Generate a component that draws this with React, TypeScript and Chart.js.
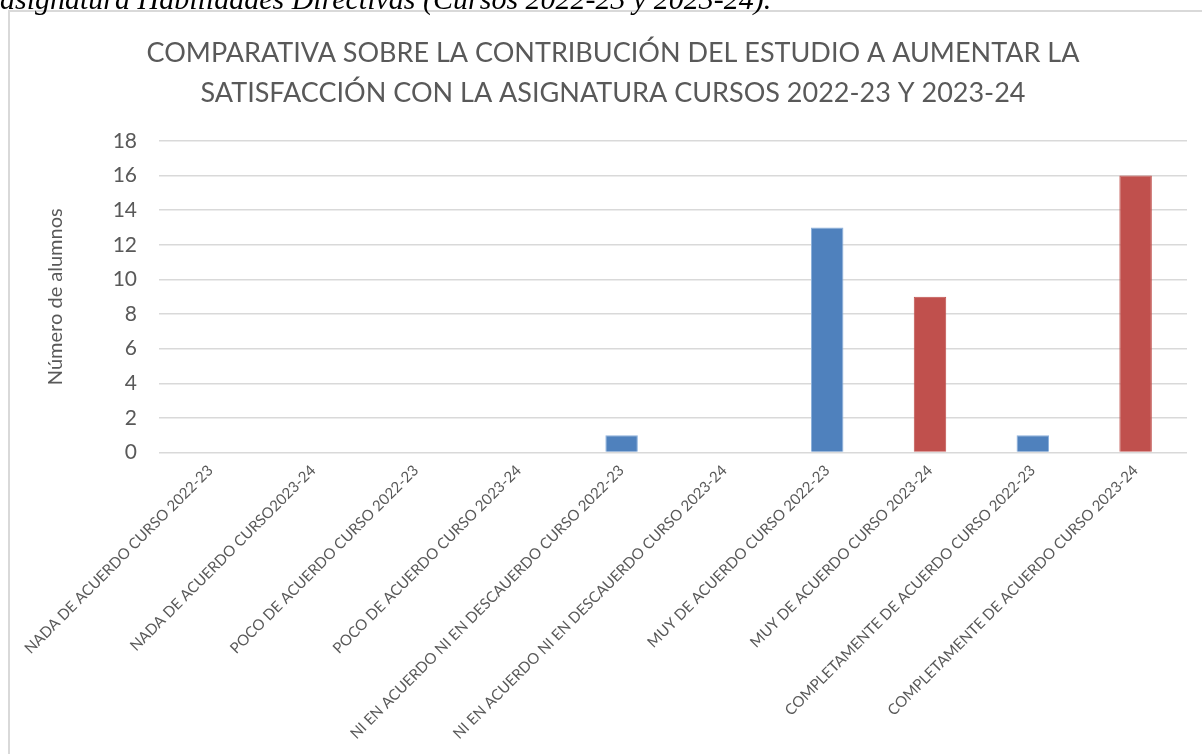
import React, { useEffect, useRef } from "react";
import { Chart, registerables } from "chart.js";

Chart.register(...registerables);

const categories: string[] = [
  "NADA DE ACUERDO CURSO 2022-23",
  "NADA DE ACUERDO CURSO2023-24",
  "POCO DE ACUERDO CURSO 2022-23",
  "POCO DE ACUERDO CURSO 2023-24",
  "NI EN ACUERDO NI EN DESCAUERDO CURSO 2022-23",
  "NI EN ACUERDO NI EN DESCAUERDO CURSO 2023-24",
  "MUY DE ACUERDO CURSO 2022-23",
  "MUY DE ACUERDO CURSO 2023-24",
  "COMPLETAMENTE DE ACUERDO CURSO 2022-23",
  "COMPLETAMENTE DE ACUERDO CURSO 2023-24",
];

const values: number[] = [0, 0, 0, 0, 1, 0, 13, 9, 1, 16];

const courses: string[] = ["2022-23", "2023-24", "2022-23", "2023-24", "2022-23", "2023-24", "2022-23", "2023-24", "2022-23", "2023-24"];

const titleLines: string[] = [
  "COMPARATIVA SOBRE LA CONTRIBUCIÓN DEL ESTUDIO A AUMENTAR LA",
  "SATISFACCIÓN CON LA ASIGNATURA CURSOS 2022-23 Y 2023-24",
];

const yTitle = "Número de alumnos";
const captionText = "asignatura Habilidades Directivas (Cursos 2022-23 y 2023-24).";

const BLUE = "#4F81BD";
const RED = "#C0504D";
const TEXT = "#595959";
const GRID = "#d9d9d9";

const CANVAS_W = 1206;
const CANVAS_H = 744;
const PLOT_LEFT = 149;
const PLOT_RIGHT_GAP = 29;
const PLOT_BOTTOM = 440.5;

export default function App() {
  const ref = useRef<HTMLCanvasElement | null>(null);

  useEffect(() => {
    if (!ref.current) return;
    const chart = new Chart(ref.current, {
      type: "bar",
      data: {
        labels: categories,
        datasets: [
          {
            data: values,
            backgroundColor: courses.map((c) => (c === "2022-23" ? BLUE : RED)),
            borderColor: courses.map((c) => (c === "2022-23" ? "#8cb0dc" : RED)),
            borderWidth: 1,
            categoryPercentage: 1,
            barPercentage: 0.316,
          },
        ],
      },
      options: {
        animation: false,
        responsive: false,
        devicePixelRatio: 1,
        layout: { padding: 0 },
        plugins: {
          legend: { display: false },
          tooltip: { enabled: false },
          title: {
            display: true,
            text: titleLines,
            color: TEXT,
            font: { family: "Lato", size: 27, weight: "normal", lineHeight: 1.48 },
            padding: { top: 21, bottom: 28 },
          },
        },
        scales: {
          x: {
            grid: { display: false },
            border: { display: false },
            ticks: {
              autoSkip: false,
              minRotation: 45,
              maxRotation: 45,
              color: TEXT,
              font: { family: "Lato", size: 15 },
              padding: 1,
            },
            afterFit: (scale: any) => {
              scale.height = CANVAS_H - PLOT_BOTTOM;
            },
          },
          y: {
            min: 0,
            max: 18,
            border: { display: false },
            grid: { color: GRID, lineWidth: 1.5, drawTicks: false },
            ticks: {
              stepSize: 2,
              color: TEXT,
              font: { family: "Lato", size: 21 },
              padding: 22,
            },
            title: {
              display: true,
              text: yTitle,
              color: TEXT,
              font: { family: "Lato", size: 20 },
              padding: { top: 34, bottom: 0 },
            },
            afterFit: (scale: any) => {
              scale.width = PLOT_LEFT;
            },
          },
          yRightGap: {
            position: "right",
            display: true,
            grid: { display: false, drawTicks: false },
            border: { display: false },
            ticks: { display: false },
            afterFit: (scale: any) => {
              scale.width = PLOT_RIGHT_GAP;
            },
          },
        },
      },
    } as any);
    return () => chart.destroy();
  }, []);

  return (
    <div
      style={{
        position: "absolute",
        left: 0,
        top: 0,
        width: 1202,
        height: 754,
        overflow: "hidden",
        background: "#fff",
      }}
    >
      <div
        style={{
          position: "absolute",
          left: 8,
          top: 10,
          width: CANVAS_W,
          height: CANVAS_H + 10,
          border: `2px solid ${GRID}`,
          background: "#fff",
        }}
      >
        <canvas ref={ref} width={CANVAS_W} height={CANVAS_H} style={{ display: "block", width: CANVAS_W, height: CANVAS_H }} />
      </div>
      <div
        style={{
          position: "absolute",
          left: 0,
          top: -16,
          fontFamily: "'Liberation Serif', serif",
          fontStyle: "italic",
          fontSize: 30,
          lineHeight: "30px",
          whiteSpace: "nowrap",
          color: "#000",
        }}
      >
        {captionText}
      </div>
    </div>
  );
}
